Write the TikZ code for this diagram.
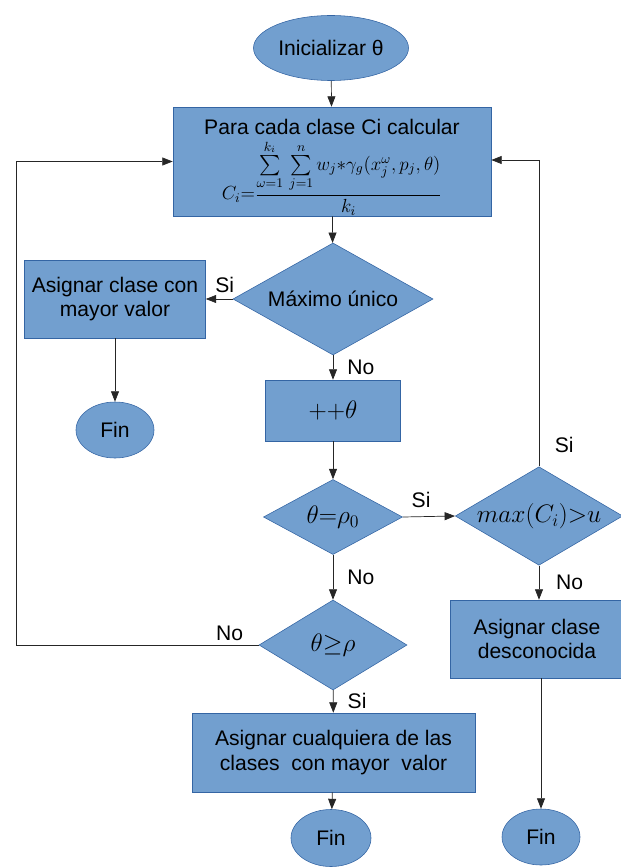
\documentclass[tikz,border=0pt]{standalone}
\usepackage{fix-cm}
\usepackage{amsmath}
\usepackage{fontspec}
\setmainfont{Liberation Sans}
\usetikzlibrary{shapes.geometric, arrows.meta}
\definecolor{boxfill}{HTML}{729FCF}
\definecolor{boxline}{HTML}{3465A4}

\tikzset{
    proc/.style={draw=boxline, fill=boxfill, rectangle, align=center, inner sep=0pt},
    decision/.style={draw=boxline, fill=boxfill, diamond, inner sep=0pt},
    term/.style={draw=boxline, fill=boxfill, ellipse, inner sep=0pt},
    flow/.style={draw=black!85, line width=0.5pt, -{Triangle[length=2.6mm,width=2mm]}},
    lbl/.style={inner sep=1pt},
    bigmath/.style={font=\fontsize{18}{20}\selectfont}
}

\begin{document}
\begin{tikzpicture}[x=0.025cm, y=-0.025cm, font=\fontsize{15}{17.5}\selectfont]

    \useasboundingbox (0,0) rectangle (620,867);

    % blocks
    \node (init) [term, minimum width=3.875cm, minimum height=1.625cm] at (331,48) {Inicializar θ};
    \node (calc) [proc, minimum width=7.95cm, minimum height=2.725cm] at (332,161.5)
        {\rule{0pt}{19pt}Para cada clase Ci calcular\\[3pt]
         {\fontsize{13.5}{15}\selectfont$C_i{=}\dfrac{\sum\limits_{\omega=1}^{k_i}\,\sum\limits_{j=1}^{n} w_j{*}\gamma_g(x_j^{\omega},p_j,\theta)}{k_i}$}};
    \node (unico) [decision, minimum width=5cm, minimum height=2.8cm, shape aspect=1.79] at (333,299) {Máximo único};
    \node (mayor) [proc, minimum width=4.525cm, minimum height=1.95cm] at (115,299) {Asignar clase con\\mayor valor};
    \node (finA) [term, minimum width=1.95cm, minimum height=1.4cm] at (115,430) {Fin};
    \node (incr) [proc, bigmath, minimum width=3.375cm, minimum height=1.525cm] at (333,410.5) {${+}{+}\theta$};
    \node (igual) [decision, bigmath, minimum width=3.475cm, minimum height=1.875cm, shape aspect=1.85] at (333,517) {$\theta{=}\rho_0$};
    \node (maxu) [decision, bigmath, minimum width=4.075cm, minimum height=2.4cm, shape aspect=1.7] at (539,516) {$max(C_i){>}u$};
    \node (mayorig) [decision, bigmath, minimum width=3.7cm, minimum height=2.25cm, shape aspect=1.64] at (333,645) {$\theta{\geq}\rho$};
    \node (cualq) [proc, minimum width=7.075cm, minimum height=1.975cm] at (333.5,752.5) {Asignar cualquiera de las\\clases\ \ con mayor\ \ valor};
    \node (finB) [term, minimum width=2cm, minimum height=1.425cm] at (331,838) {Fin};
    \node (desc) [proc, minimum width=4.35cm, minimum height=1.95cm] at (537,639) {Asignar clase\\desconocida};
    \node (finC) [term, minimum width=1.95cm, minimum height=1.4cm] at (541,837) {Fin};

    \coordinate (loopL) at (16,645);
    \coordinate (loopR) at (539,160);

    % connectors
    \draw[flow] (init) -- (calc);
    \draw[flow] (calc) -- (unico);
    \draw[flow] (unico.west) -- node[lbl, above=3pt, pos=0.3] {Si} (mayor.east);
    \draw[flow] (mayor) -- (finA);
    \draw[flow] (unico) -- node[lbl, right=9pt] {No} (incr);
    \draw[flow] (incr) -- (igual);
    \draw[flow] (igual.east) -- node[lbl, above=5pt, pos=0.35] {Si} (maxu.west);
    \draw[flow] (igual) -- node[lbl, right=9pt] {No} (mayorig);
    \draw[flow] (mayorig.west) -- node[lbl, above=2pt, pos=0.12] {No} (loopL) |- (calc.west);
    \draw[flow] (mayorig) -- node[lbl, right=9pt] {Si} (cualq);
    \draw[flow] (cualq) -- (finB);
    \draw[flow] (maxu.north) -- node[lbl, right=10pt, pos=0.07] {Si} (loopR) -- (calc.east |- loopR);
    \draw[flow] (maxu.south) -- node[lbl, right=11pt] {No} (maxu.south |- desc.north);
    \draw[flow] (finC |- desc.south) -- (finC);

\end{tikzpicture}
\end{document}
